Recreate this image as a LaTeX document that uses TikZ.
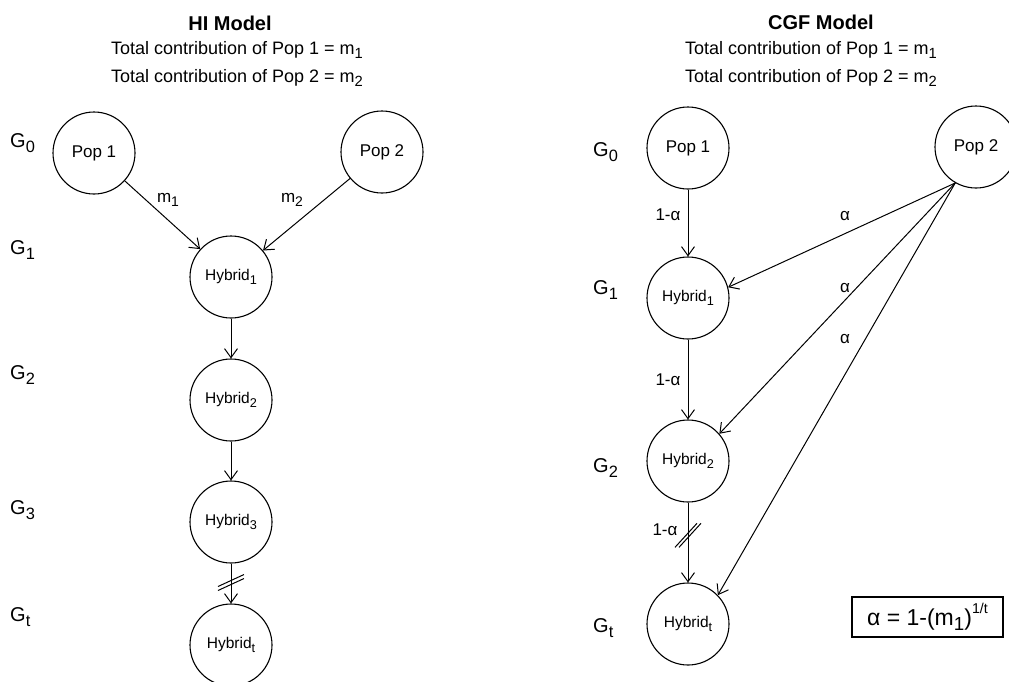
\documentclass[tikz,border=0pt]{standalone}
\usepackage{fontspec}
\setmainfont{Liberation Sans}
\usetikzlibrary{arrows.meta}
% lowered and raised small figures for indices
\newcommand{\lo}[1]{\raisebox{-0.4ex}{\scalebox{0.82}{#1}}}
\newcommand{\hi}[1]{\raisebox{0.95ex}{\scalebox{0.62}{#1}}}

\begin{document}
\begin{tikzpicture}[x=1pt,y=-1pt,
  popnode/.style={draw, circle, minimum size=82pt, inner sep=0pt, line width=1.1pt,
                  font=\fontsize{17}{17}\selectfont},
  hybnode/.style={popnode, font=\fontsize{15.5}{15.5}\selectfont},
  genlabel/.style={font=\fontsize{20}{20}\selectfont, anchor=west, inner sep=0pt},
  edgelabel/.style={font=\fontsize{17}{17}\selectfont, inner sep=0pt},
  flow/.style={-{Straight Barb[length=9pt,width=13pt,line width=1pt]}, line width=1pt},
  slash/.style={line width=1pt},
  heading/.style={font=\bfseries\fontsize{20}{20}\selectfont},
  subheading/.style={font=\fontsize{18}{18}\selectfont}]

\useasboundingbox (0,0) rectangle (1009,681);

% ---------------- HI model ----------------
\node[heading]    (hiT)  at (230,23) {HI Model};
\node[subheading] (hiS1) at (237,50) {Total contribution of Pop 1 = m\lo{1}};
\node[subheading] (hiS2) at (237,78) {Total contribution of Pop 2 = m\lo{2}};

\node[genlabel] (lg0) at (10,143) {G\lo{0}};
\node[genlabel] (lg1) at (10,250) {G\lo{1}};
\node[genlabel] (lg2) at (10,375) {G\lo{2}};
\node[genlabel] (lg3) at (10,510) {G\lo{3}};
\node[genlabel] (lgt) at (10,617) {G\lo{t}};

\node[popnode] (p1l) at (94,153)  {Pop 1};
\node[popnode] (p2l) at (382,152) {Pop 2};
\node[hybnode] (h1l) at (231,277) {Hybrid\lo{1}};
\node[hybnode] (h2l) at (231,400) {Hybrid\lo{2}};
\node[hybnode] (h3l) at (231,522) {Hybrid\lo{3}};
\node[hybnode] (htl) at (231,645) {Hybrid\lo{t}};

\draw[flow] (p1l) -- (h1l);
\draw[flow] (p2l) -- (h1l);
\draw[flow] (h1l) -- (h2l);
\draw[flow] (h2l) -- (h3l);
\draw[flow] (h3l) -- coordinate[pos=0.5] (bl) (htl);
\draw[slash] ([shift={(-13,7)}]bl) -- ([shift={(13,-5)}]bl);
\draw[slash] ([shift={(-13,3)}]bl) -- ([shift={(13,-9)}]bl);

\node[edgelabel] (m1) at (168,200) {m\lo{1}};
\node[edgelabel] (m2) at (292,200) {m\lo{2}};

% ---------------- CGF model ----------------
\node[heading]    (cgT)  at (821,22) {CGF Model};
\node[subheading] (cgS1) at (811,50) {Total contribution of Pop 1 = m\lo{1}};
\node[subheading] (cgS2) at (811,78) {Total contribution of Pop 2 = m\lo{2}};

\node[genlabel] (rg0) at (593,152) {G\lo{0}};
\node[genlabel] (rg1) at (593,290) {G\lo{1}};
\node[genlabel] (rg2) at (593,468) {G\lo{2}};
\node[genlabel] (rgt) at (593,628) {G\lo{t}};

\node[popnode] (p1r) at (688,148) {Pop 1};
\node[popnode] (p2r) at (976,147) {Pop 2};
\node[hybnode] (h1r) at (688,298) {Hybrid\lo{1}};
\node[hybnode] (h2r) at (688,461) {Hybrid\lo{2}};
\node[hybnode] (htr) at (688,624) {Hybrid\lo{t}};

\draw[flow] (p1r) -- (h1r);
\draw[flow] (h1r) -- (h2r);
\draw[flow] (h2r) -- coordinate[pos=0.41] (br) (htr);
\draw[slash] ([shift={(-13,12)}]br) -- ([shift={(9,-12)}]br);
\draw[slash] ([shift={(-9,12)}]br) -- ([shift={(13,-12)}]br);

\draw[flow] (p2r.-120) -- (h1r.15);
\draw[flow] (p2r.-120) -- (h2r.41);
\draw[flow] (p2r.-120) -- (htr.44);

\node[edgelabel] (ra1) at (668,215) {1-α};
\node[edgelabel] (ra2) at (668,380) {1-α};
\node[edgelabel] (ra3) at (665,530) {1-α};
\node[edgelabel] (al1) at (845,216) {α};
\node[edgelabel] (al2) at (845,288) {α};
\node[edgelabel] (al3) at (845,339) {α};

\node[draw, line width=1.1pt, minimum width=151pt, minimum height=40pt, inner sep=0pt,
      font=\fontsize{23}{23}\selectfont] (eq) at (927.5,617) {α = 1-(m\lo{1})\hi{1/t}};

\end{tikzpicture}
\end{document}
